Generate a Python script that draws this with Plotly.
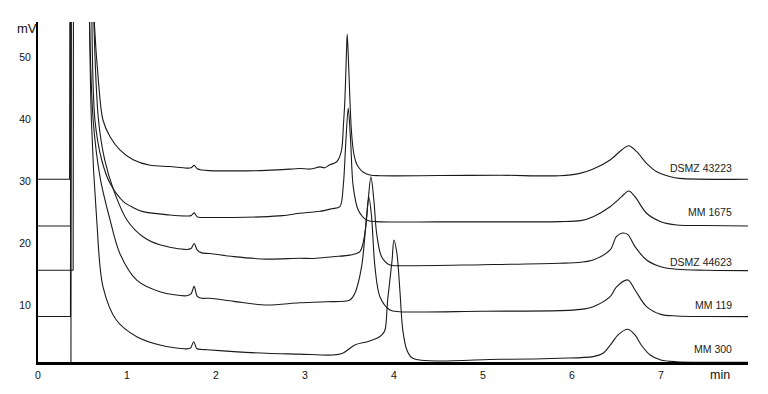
import plotly.graph_objects as go

# ---- data (time in min, signal in mV) ----
names = ["DSMZ 43223", "MM 1675", "DSMZ 44623", "MM 119", "MM 300"]

t_43223 = [0, 0.355, 0.375, 0.55, 0.62, 0.68, 0.73, 0.81, 0.92, 1.07, 1.26, 1.48, 1.67, 1.72, 1.755, 1.79, 1.84, 1.93,
           2.2, 2.5, 2.75, 2.94, 3.06, 3.17, 3.22, 3.28, 3.34, 3.37, 3.412, 3.433, 3.449, 3.466, 3.475, 3.487, 3.506,
           3.522, 3.543, 3.573, 3.599, 3.652, 3.73, 3.843, 4.5, 5.2, 5.865, 6.09, 6.24, 6.43, 6.56, 6.64, 6.73, 6.84,
           6.95, 7.1, 7.21, 7.98]
v_43223 = [30.35, 30.35, 200, 200, 60, 46, 39.9, 37.2, 35.1, 33.5, 32.6, 32.4, 32.15, 32.2, 32.6, 32.05, 31.85, 31.75,
           31.7, 31.75, 31.9, 32.1, 32.0, 32.35, 32.2, 32.7, 33.0, 33.4, 35.07, 39.1, 43.12, 50.37, 53.75, 50.37, 43.12,
           38.29, 35.07, 33.14, 32.38, 31.53, 31.05, 30.93, 30.95, 31.0, 30.93, 31.3, 32.0, 33.46, 35.07, 35.76, 34.8,
           32.9, 31.6, 30.8, 30.5, 30.35]

t_1675 = [0, 0.365, 0.38, 0.55, 0.60, 0.64, 0.716, 0.81, 0.96, 1.07, 1.18, 1.48, 1.67, 1.72, 1.755, 1.79, 1.84, 1.93,
          2.2, 2.5, 2.75, 2.94, 3.06, 3.17, 3.3, 3.393, 3.43, 3.461, 3.487, 3.513, 3.543, 3.599, 3.693, 3.806, 4.5, 5.2,
          5.865, 6.1, 6.24, 6.43, 6.56, 6.64, 6.71, 6.84, 7.0, 7.18, 7.5, 7.98]
v_1675 = [22.83, 22.83, 200, 200, 62, 39.9, 33.46, 29.7, 26.75, 25.8, 25.14, 24.6, 24.45, 24.5, 24.95, 24.3, 24.2, 24.2,
          24.2, 24.3, 24.5, 24.88, 25.05, 25.2, 25.6, 25.94, 29.16, 36.68, 41.79, 36.68, 29.16, 25.41, 23.80, 23.53,
          23.5, 23.5, 23.53, 23.7, 24.33, 25.94, 27.55, 28.47, 27.55, 24.88, 23.53, 23.0, 22.9, 22.83]

t_44623 = [0, 0.395, 0.41, 0.55, 0.62, 0.68, 0.75, 0.85, 1.0, 1.18, 1.37, 1.67, 1.72, 1.755, 1.79, 1.84, 1.93, 2.2, 2.57,
           2.94, 3.1, 3.315, 3.506, 3.618, 3.674, 3.711, 3.742, 3.775, 3.806, 3.862, 3.955, 4.067, 5.0, 5.865, 6.1,
           6.24, 6.43, 6.5, 6.57, 6.63, 6.71, 6.84, 7.0, 7.18, 7.5, 7.98]
v_44623 = [15.7, 15.7, 200, 200, 60, 39.9, 33.46, 28.6, 23.8, 21.1, 19.8, 19.05, 19.2, 20.0, 18.95, 18.5, 18.4, 17.9,
           17.5, 17.63, 17.6, 17.89, 18.14, 18.7, 21.66, 27.02, 30.77, 27.02, 21.66, 17.89, 16.55, 16.44, 16.6, 16.83,
           17.0, 17.36, 18.97, 21.1, 21.7, 21.45, 19.5, 17.36, 16.28, 15.86, 15.7, 15.64]

t_119 = [0, 0.365, 0.38, 0.5, 0.57, 0.62, 0.70, 0.81, 0.92, 1.11, 1.37, 1.67, 1.72, 1.755, 1.79, 1.84, 1.93, 2.2, 2.57,
         2.94, 3.24, 3.506, 3.562, 3.637, 3.693, 3.719, 3.749, 3.787, 3.843, 3.955, 4.067, 5.0, 5.865, 6.1, 6.24, 6.43,
         6.5, 6.63, 6.71, 6.84, 7.0, 7.18, 7.5, 7.98]
v_119 = [8.25, 8.25, 200, 200, 62, 39.9, 30.5, 23.8, 18.4, 14.1, 12.25, 11.6, 11.9, 13.1, 11.5, 11.2, 11.19, 10.7,
         10.11, 10.48, 10.64, 10.92, 12.0, 16.28, 24.33, 27.46, 24.33, 16.28, 11.45, 9.31, 9.03, 9.1, 9.2, 9.4, 9.84,
         11.45, 13.0, 14.14, 12.53, 9.84, 8.6, 8.34, 8.25, 8.23]

t_300 = [0, 0.37, 0.385, 0.5, 0.57, 0.60, 0.66, 0.73, 0.88, 1.11, 1.37, 1.67, 1.715, 1.75, 1.785, 1.84, 1.9, 2.2, 2.57,
         2.94, 3.315, 3.43, 3.56, 3.70, 3.81, 3.865, 3.90, 3.93, 3.98, 4.0, 4.034, 4.067, 4.10, 4.146, 4.213, 5.19,
         5.865, 6.24, 6.35, 6.43, 6.52, 6.63, 6.71, 6.78, 6.88, 7.0, 7.18, 7.98]
v_300 = [-3, -3, 200, 200, 70, 39.9, 23.8, 13.06, 7.7, 5.0, 3.67, 3.05, 3.2, 4.2, 3.1, 2.95, 2.9, 2.6, 2.33,
         2.2, 2.06, 2.38, 3.67, 4.2, 4.75, 5.28, 6.09, 10.92, 17.36, 20.58, 18.44, 12.53, 6.09, 2.87, 1.53, 1.37,
         1.53, 1.79, 2.33, 3.6, 5.3, 6.2, 5.28, 3.67, 2.06, 1.26, 0.98, 0.9]

label_t = [7.82, 7.82, 7.82, 7.82, 7.82]
label_v = [32.1, 25.1, 17.1, 10.1, 3.1]

x_ticks = [0, 1, 2, 3, 4, 5, 6, 7]
y_ticks = [10, 20, 30, 40, 50]

series = [(t_43223, v_43223), (t_1675, v_1675), (t_44623, v_44623), (t_119, v_119), (t_300, v_300)]

LINE = dict(color="#1a1a1a", width=1.1)
FONT = "Liberation Sans, Arial"

fig = go.Figure()
for name, (t, v) in zip(names, series):
    # baseline + injection spike (straight segments)
    fig.add_trace(go.Scatter(x=t[:3], y=v[:3], mode="lines", line=LINE, showlegend=False, hoverinfo="skip"))
    # solvent front and chromatogram (smooth)
    fig.add_trace(go.Scatter(x=t[3:], y=v[3:], mode="lines", name=name,
                             line=dict(LINE, shape="spline", smoothing=0.9), showlegend=False))

for name, lt, lv in zip(names, label_t, label_v):
    fig.add_annotation(x=lt, y=lv, text=name, showarrow=False, xanchor="right", yanchor="middle",
                       font=dict(family=FONT, size=10.5, color="#222"))

fig.add_annotation(xref="paper", yref="paper", x=-0.0155, y=0.982, text="mV", showarrow=False,
                   xanchor="center", yanchor="middle", font=dict(family=FONT, size=13, color="#111"))
fig.add_annotation(xref="paper", yref="paper", x=0.96, y=-0.038, text="min", showarrow=False,
                   xanchor="center", yanchor="middle", font=dict(family=FONT, size=12.5, color="#111"))

fig.update_layout(
    width=768, height=394,
    margin=dict(l=38, r=20, t=22, b=32),
    paper_bgcolor="white", plot_bgcolor="white",
    font=dict(family=FONT, size=10.5, color="#111"),
    xaxis=dict(range=[0, 7.98], tickvals=x_ticks, showgrid=False, zeroline=False, showline=True,
               linecolor="#000", linewidth=2.5, ticks="", ticklabelstandoff=2),
    yaxis=dict(range=[0.93, 55.68], tickvals=y_ticks, showgrid=False, zeroline=False, showline=True,
               linecolor="#000", linewidth=2, ticks="", ticklabelstandoff=3),
)

fig.write_html("out.html")
